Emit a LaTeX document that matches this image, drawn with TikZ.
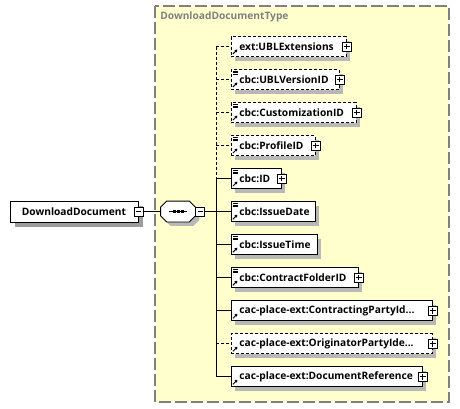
\documentclass[tikz,border=0pt]{standalone}
\usepackage{fontspec}
\setmainfont{Open Sans}
\usepackage{xcolor}
\usepackage{tikz}
\usetikzlibrary{arrows.meta,shadows}

\definecolor{typebg}{RGB}{255,255,206}
\definecolor{typeline}{RGB}{128,128,128}
\definecolor{shade}{RGB}{184,184,184}
\exhyphenpenalty=10000
\hyphenpenalty=10000

% small marks inside the element boxes
\newcommand\refarrow{\draw[solid,line width=1pt,-{Triangle[length=2.5pt,width=3.2pt]}] ([shift={(1.5pt,2.5pt)}]path picture bounding box.south west) -- ++(4.5pt,4.5pt);}
\newcommand\typelines{\foreach \d in {1.5,3.3,5.1} \draw[solid,line width=.7pt] ([shift={(1.5pt,-\d pt)}]path picture bounding box.north west) -- ++(5.5pt,0);}
% outline of the sequence compositor
\newcommand\seqoutline[1]{([xshift=6pt]#1.north west) -- ([xshift=-6pt]#1.north east) -- ([yshift=-6pt]#1.north east) -- ([yshift=6pt]#1.south east) -- ([xshift=-6pt]#1.south east) -- ([xshift=6pt]#1.south west) -- ([yshift=6pt]#1.south west) -- ([yshift=-6pt]#1.north west) -- cycle}

\begin{document}
\begin{tikzpicture}[x=1pt,y=-1pt,line width=0.8pt,font=\bfseries\fontsize{10.2}{12}\selectfont,
  el node/.style={draw,fill=white,anchor=west,minimum height=20pt,inner xsep=8pt,inner ysep=0pt,text width=#1,align=left,drop shadow={shadow xshift=4pt,shadow yshift=-4pt,fill=shade,opacity=1}},
  ref el/.style={el node=#1,path picture={\refarrow}},
  simple el/.style={el node=#1,path picture={\refarrow\typelines}},
  opt/.style={dash pattern=on 3pt off 2pt},
  expand box/.style={draw,solid,fill=white,minimum size=9pt,inner sep=0pt,path picture={\draw[line width=.8pt] ([xshift=-2.7pt]path picture bounding box.center) -- ([xshift=2.7pt]path picture bounding box.center) ([yshift=-2.7pt]path picture bounding box.center) -- ([yshift=2.7pt]path picture bounding box.center);}},
  collapse box/.style={draw,solid,fill=white,minimum size=9pt,inner sep=0pt,path picture={\draw[line width=.8pt] ([xshift=-2.7pt]path picture bounding box.center) -- ([xshift=2.7pt]path picture bounding box.center);}},
  seq box/.style={minimum width=34pt,minimum height=20pt,inner sep=0pt}]
    \useasboundingbox (0,0) rectangle (460,408);

    % complex type area
    \path[fill=typebg,draw=typeline,line width=1.2pt,dash pattern=on 12pt off 4pt] (155,6) rectangle (449,402);
    \node[text=typeline,anchor=west,inner sep=0pt] (typename) at (160,17) {DownloadDocumentType};

    \node[draw,fill=white,minimum width=128pt,minimum height=21pt,inner sep=0pt,drop shadow={shadow xshift=5pt,shadow yshift=-5pt,fill=shade!85!black,opacity=1}] (root) at (74,211.5) {DownloadDocument};
    \node[collapse box] (rootm) at (root.east) {};

    % sequence
    \node[seq box] (seq) at (178,211.5) {};
    \draw[fill=white,drop shadow={shadow xshift=4pt,shadow yshift=-4pt,fill=shade,opacity=1}] \seqoutline{seq};
    \draw ([xshift=-9pt]seq.center) -- ([xshift=9pt]seq.center);
    \foreach \s in {-4,0,4}
      \fill ([shift={(\s pt-1.5pt,-1.5pt)}]seq.center) rectangle ++(3,-3);
    \node[collapse box,anchor=west] (seqm) at (seq.east) {};
    \coordinate (trunk) at (216,211.5);

    \node[ref el=99pt,opt] (ublext) at (231,46.5) {ext:UBLExtensions};
    \node[simple el=92pt,opt] (ublver) at (231,79.5) {cbc:UBLVersionID};
    \node[simple el=109pt,opt] (custid) at (231,112.6) {cbc:CustomizationID};
    \node[simple el=68pt,opt] (profid) at (231,145.6) {cbc:ProfileID};
    \node[simple el=34pt] (id) at (231,178.6) {cbc:ID};
    \node[simple el=68pt] (issdate) at (231,211.7) {cbc:IssueDate};
    \node[simple el=70pt] (isstime) at (231,244.7) {cbc:IssueTime};
    \node[simple el=111pt] (cfid) at (231,277.7) {cbc:ContractFolderID};
    \node[ref el=185pt] (cpartyid) at (231,310.8) {cac-place-ext:ContractingPartyId...};
    \node[ref el=185pt,opt] (opartyid) at (231,343.8) {cac-place-ext:OriginatorPartyIde...};
    \node[ref el=175pt] (docref) at (231,376.8) {cac-place-ext:DocumentReference};

    \node[expand box] (ublextp) at (ublext.east) {};
    \node[expand box] (ublverp) at (ublver.east) {};
    \node[expand box] (custidp) at (custid.east) {};
    \node[expand box] (profidp) at (profid.east) {};
    \node[expand box] (idp) at (id.east) {};
    \node[expand box] (cfidp) at (cfid.east) {};
    \node[expand box] (cpartyidp) at (cpartyid.east) {};
    \node[expand box] (opartyidp) at (opartyid.east) {};
    \node[expand box] (docrefp) at (docref.east) {};

    \draw (rootm.east) -- (seq.west);
    \draw (seqm.east) -- (trunk);
    \draw[opt] (ublext.west -| trunk) -- (id.west -| trunk);
    \draw (id.west -| trunk) -- (docref.west -| trunk);

    \draw[opt] (ublext.west -| trunk) -- (ublext.west);
    \draw[opt] (ublver.west -| trunk) -- (ublver.west);
    \draw[opt] (custid.west -| trunk) -- (custid.west);
    \draw[opt] (profid.west -| trunk) -- (profid.west);
    \draw (id.west -| trunk) -- (id.west);
    \draw (issdate.west -| trunk) -- (issdate.west);
    \draw (isstime.west -| trunk) -- (isstime.west);
    \draw (cfid.west -| trunk) -- (cfid.west);
    \draw (cpartyid.west -| trunk) -- (cpartyid.west);
    \draw[opt] (opartyid.west -| trunk) -- (opartyid.west);
    \draw (docref.west -| trunk) -- (docref.west);
\end{tikzpicture}
\end{document}
